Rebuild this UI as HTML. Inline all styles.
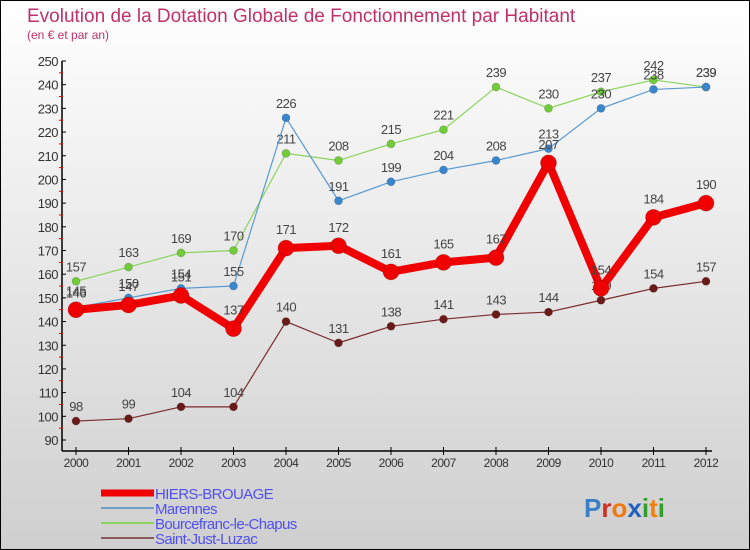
<!DOCTYPE html>
<html><head><meta charset="utf-8"><style>
body{margin:0;}
#c{width:748px;height:548px;border:1px solid #000;background:linear-gradient(#fff,#cfcfcf);position:relative;font-family:"Liberation Sans",sans-serif;overflow:hidden}
</style></head><body>
<div id="c">
<svg id="s" width="748" height="548" style="position:absolute;left:0;top:0">
<text x="26" y="21" font-size="19" fill="#c0306a">Evolution de la Dotation Globale de Fonctionnement par Habitant</text>
<text x="26" y="38" font-size="12" fill="#c0306a">(en € et par an)</text>
</svg>
</div>
<script>
const years=[2000,2001,2002,2003,2004,2005,2006,2007,2008,2009,2010,2011,2012];
const hiers=[145,147,151,137,171,172,161,165,167,207,154,184,190];
const marennes=[146,150,154,155,226,191,199,204,208,213,230,238,239];
const bourcefranc=[157,163,169,170,211,208,215,221,239,230,237,242,239];
const saintJust=[98,99,104,104,140,131,138,141,143,144,149,154,157];
const yTicks=[90,100,110,120,130,140,150,160,170,180,190,200,210,220,230,240,250];
const s=document.getElementById('s');const NS='http://www.w3.org/2000/svg';
function x(i){return 75+i*52.5;}
function y(v){return 439-(v-90)*(379/160);}
function el(t,a,p){const e=document.createElementNS(NS,t);for(const k in a)e.setAttribute(k,a[k]);(p||s).appendChild(e);return e;}
// axes
let a=el('line',{x1:61,y1:y(250),x2:61,y2:450,stroke:'#000','stroke-width':1.5});


a=el('line',{x1:61,y1:450,x2:711,y2:450,stroke:'#000','stroke-width':1.5});


yTicks.forEach((v,i)=>{
 el('line',{x1:61,x2:65,y1:y(v),y2:y(v),stroke:'#000'});
 if(i<yTicks.length-1) el('line',{x1:58,x2:62,y1:y(v+5),y2:y(v+5),stroke:'#e00'});
 const t=el('text',{x:57,y:y(v)+5,'font-size':13,'text-anchor':'end',fill:'#333','letter-spacing':'-0.5'});t.textContent=v;
 
 
});
years.forEach((yr,i)=>{
 el('line',{x1:x(i),x2:x(i),y1:446,y2:454,stroke:'#000'});
 const t=el('text',{x:x(i),y:466,'font-size':12,'text-anchor':'middle',fill:'#333','letter-spacing':'-0.5'});t.textContent=yr;
 
 
});
function series(d,col,dot,w,r,name){
 const g=el('g',{});
 
 
 el('polyline',{points:d.map((v,i)=>x(i)+','+y(v)).join(' '),fill:'none',stroke:col,'stroke-width':w,'stroke-linejoin':'round'},g);
 d.forEach((v,i)=>{
  const c=el('circle',{cx:x(i),cy:y(v),r:r,fill:dot,stroke:'rgba(0,0,0,0.15)'},g);
  
  
  const t=el('text',{x:x(i),y:y(v)-r-6,'font-size':13,'text-anchor':'middle',fill:'#444','letter-spacing':'-0.5'},g);t.textContent=v;
  
  
 });
}
series(saintJust,'#7a2a2a','#6b1a1a',1.2,4,'saint-just-series');
series(bourcefranc,'#8ad45a','#72cc3a',1.2,4,'bourcefranc-series');
series(marennes,'#5a9ad0','#3a86cc',1.2,4,'marennes-series');
series(hiers,'#f00000','#f00000',8,8,'hiers-series');
const leg=[['HIERS-BROUAGE','#f00000',7],['Marennes','#6fa0c8',2],['Bourcefranc-le-Chapus','#8ad45a',2],['Saint-Just-Luzac','#8a5a5a',2]];
leg.forEach((l,i)=>{
 const yy=492+i*15;
 el('line',{x1:100,x2:153,y1:yy,y2:yy,stroke:l[1],'stroke-width':l[2]});
 const t=el('text',{x:154,y:yy+6,'font-size':15,fill:'#5050f0','letter-spacing':'-0.6'});t.textContent=l[0];
 
 
});
const cols=['#3a7fc8','#d03020','#f07a10','#2060c0','#30a030','#f08010','#30a030'];
const lg=el('text',{x:583,y:516,'font-size':26,'font-weight':'bold'});


['P','r','o','x','i','t','i'].forEach((c,i)=>{const ts=el('tspan',{fill:cols[i]},lg);ts.textContent=c;});
</script>
</body></html>
